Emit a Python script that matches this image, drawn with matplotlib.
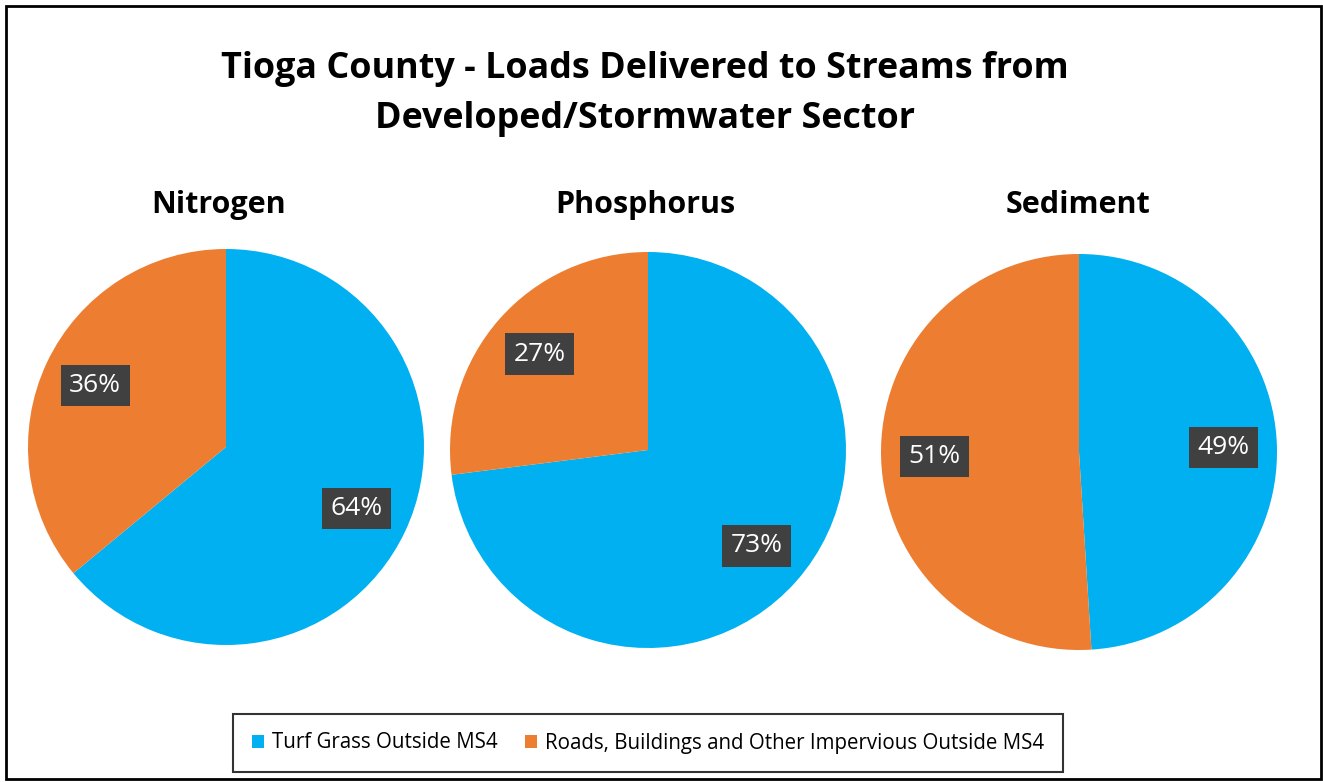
import matplotlib.pyplot as plt
from matplotlib.patches import Rectangle, Patch

# data
pies = ['Nitrogen', 'Phosphorus', 'Sediment']
turf = [64, 73, 49]
roads = [36, 27, 51]
series = ['Turf Grass Outside MS4', 'Roads, Buildings and Other Impervious Outside MS4']
colors = ['#00B0F0', '#ED7D31']

W, H = 1323, 782
plt.rcParams['font.family'] = ['Open Sans', 'DejaVu Sans']
fig = plt.figure(figsize=(W / 100, H / 100), dpi=100)

# outer frame
fig.patches.append(Rectangle((6 / W, 3 / H), 1315 / W, 773 / H, transform=fig.transFigure,
                             fill=False, edgecolor='black', linewidth=2))

fig.text(645 / W, 1 - 69 / H, 'Tioga County - Loads Delivered to Streams from',
         ha='center', va='center', fontsize=25.8, fontweight='bold')
fig.text(645 / W, 1 - 119 / H, 'Developed/Stormwater Sector',
         ha='center', va='center', fontsize=25.8, fontweight='bold')

centers = [(226, 447), (648, 450), (1079, 452)]
title_x = [219, 645, 1078]
r = 198
for i, name in enumerate(pies):
    cx, cy = centers[i]
    ax = fig.add_axes([(cx - r) / W, 1 - (cy + r) / H, 2 * r / W, 2 * r / H])
    wedges, texts, autotexts = ax.pie([turf[i], roads[i]], colors=colors, startangle=90,
                                      counterclock=False, autopct='%d%%', pctdistance=0.73,
                                      radius=1, wedgeprops=dict(linewidth=0))
    for t in autotexts:
        t.set_color('white')
        t.set_fontsize(19)
        t.set_bbox(dict(facecolor='#404040', edgecolor='none', pad=6))
    ax.set_xlim(-1, 1)
    ax.set_ylim(-1, 1)
    ax.set_aspect('equal')
    ax.axis('off')
    fig.text(title_x[i] / W, 1 - 205 / H, name, ha='center', va='center',
             fontsize=22, fontweight='bold')

handles = [Patch(facecolor=c, edgecolor='none') for c in colors]
leg = fig.legend(handles, series, loc='center', bbox_to_anchor=(648 / W, 1 - 743 / H),
                 ncol=2, fontsize=14.8, frameon=True, fancybox=False, edgecolor='black',
                 handlelength=0.6, handleheight=0.6, handletextpad=0.4, columnspacing=1.3,
                 borderpad=0.9)
leg.get_frame().set_linewidth(1.5)

fig.savefig('out.png', dpi=100)
